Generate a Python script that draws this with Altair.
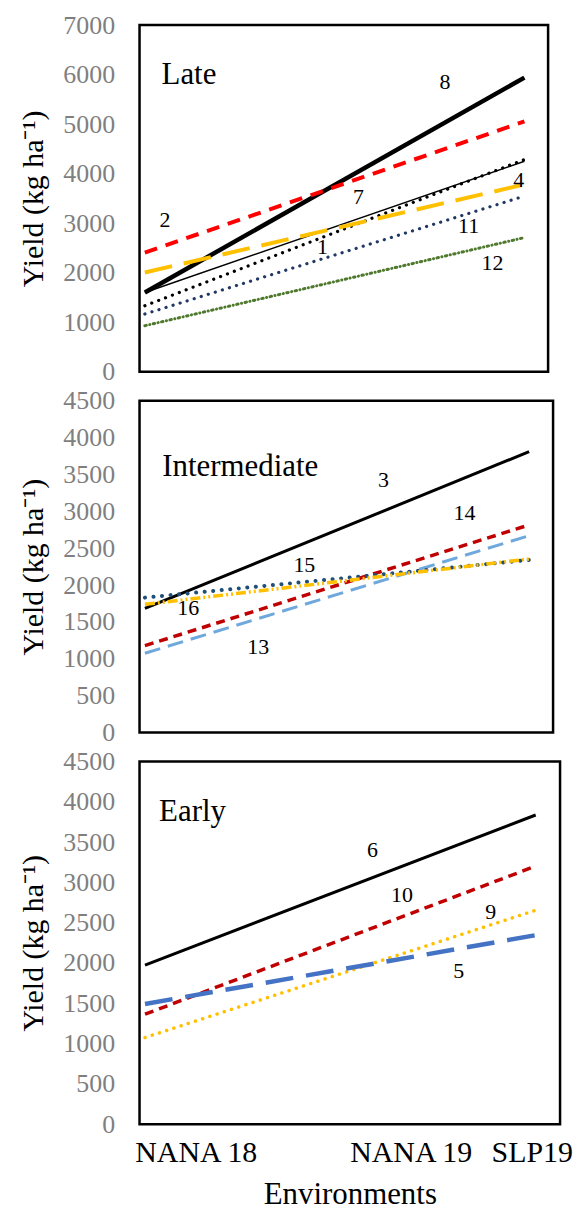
import altair as alt
import pandas as pd

FONT = "Liberation Serif"

# ---------- data ----------
# line endpoints on environment-index axis (start, end)
line_x = [0.0, 1.0]

# Late panel
late_ids = ["8", "2", "7", "1", "4", "11", "12"]
late_start = [1603, 2408, 1603, 1334, 2006, 1167, 931]
late_end = [5940, 5055, 4251, 4285, 3782, 3547, 2710]
late_lab = ["8", "2", "7", "1", "4", "11", "12"]
late_lab_x = [0.791, 0.053, 0.563, 0.468, 0.985, 0.853, 0.916]
late_lab_y = [5848, 3058, 3527, 2529, 3882, 2943, 2193]
late_name_xy = [0.044, 5995]

# Intermediate panel
int_ids = ["3", "14", "13", "15", "16"]
int_start = [1685, 1179, 1075, 1830, 1739]
int_end = [3809, 2815, 2670, 2341, 2354]
int_lab = ["3", "14", "15", "16", "13"]
int_lab_x = [0.621, 0.832, 0.415, 0.113, 0.295]
int_lab_y = [3425, 2973, 2273, 1685, 1166]
int_name_xy = [0.045, 3605]

# Early panel
early_ids = ["6", "10", "9", "5"]
early_start = [1974, 1364, 1075, 1492]
early_end = [3836, 3202, 2654, 2345]
early_lab = ["6", "10", "9", "5"]
early_lab_x = [0.582, 0.658, 0.885, 0.803]
early_lab_y = [3396, 2847, 2633, 1900]
early_name_xy = [0.036, 3878]

# environments (x-axis tick labels)
env_names = ["NANA 18", "NANA 19", "SLP19"]
env_pos = [0.13, 0.68, 0.99]

# ---------- styles ----------
styles = {
    "8": dict(color="#000000", strokeWidth=4.5),
    "2": dict(color="#FF0000", strokeWidth=4, strokeDash=[13, 9]),
    "7": dict(color="#000000", strokeWidth=1.5),
    "1": dict(color="#000000", strokeWidth=3.2, strokeDash=[0.1, 7.3], strokeCap="round"),
    "4": dict(color="#FFC000", strokeWidth=4, strokeDash=[28, 12]),
    "11": dict(color="#203864", strokeWidth=3.2, strokeDash=[0.1, 7.3], strokeCap="round"),
    "12": dict(color="#4F7A2E", strokeWidth=3, strokeDash=[1.5, 3.5, 0.1, 3.5], strokeCap="round"),
    "3": dict(color="#000000", strokeWidth=3),
    "14": dict(color="#C00000", strokeWidth=3.5, strokeDash=[9, 6]),
    "13": dict(color="#6FA8DC", strokeWidth=3, strokeDash=[16, 8]),
    "15": dict(color="#1F4E79", strokeWidth=4, strokeDash=[0.1, 8.5], strokeCap="round"),
    "16": dict(color="#FFC000", strokeWidth=3.5, strokeDash=[10, 3, 2, 3, 2, 3]),
    "6": dict(color="#000000", strokeWidth=3),
    "10": dict(color="#C00000", strokeWidth=3.5, strokeDash=[9, 6]),
    "9": dict(color="#FFC000", strokeWidth=3.5, strokeDash=[0.1, 7.5], strokeCap="round"),
    "5": dict(color="#4472C4", strokeWidth=4.5, strokeDash=[28, 13]),
}

XDOM = [-0.014, 1.0624]


def panel(name, name_xy, ids, starts, ends, labs, lab_x, lab_y, ymax, ystep, ytitle,
          width, height, show_x):
    xscale = alt.Scale(domain=XDOM, nice=False, zero=False)
    yscale = alt.Scale(domain=[0, ymax], nice=False)
    if show_x:
        xaxis = alt.Axis(values=env_pos, title="Environments",
                         labelExpr="datum.value < 0.4 ? '%s' : (datum.value < 0.9 ? '%s' : '%s')" % tuple(env_names),
                         labelFont=FONT, labelFontSize=30, labelColor="#000000",
                         titleFont=FONT, titleFontSize=31, titleFontWeight="normal",
                         titleColor="#000000", labelPadding=13, titlePadding=13,
                         ticks=False, domain=False, grid=False,
                         labelFlush=False, labelOverlap=False)
    else:
        xaxis = None
    yaxis = alt.Axis(values=list(range(0, ymax + 1, ystep)), title=ytitle, format="d",
                     labelFont=FONT, labelFontSize=26, labelColor="#7F7F7F",
                     titleFont=FONT, titleFontSize=30, titleFontWeight="normal",
                     titleColor="#000000", labelPadding=25, titlePadding=14,
                     ticks=False, domain=False, grid=False)
    X = alt.X("x:Q", scale=xscale, axis=xaxis)
    Y = alt.Y("y:Q", scale=yscale, axis=yaxis)
    layers = []
    for sid, a, b in zip(ids, starts, ends):
        df = pd.DataFrame({"x": line_x, "y": [a, b]})
        layers.append(alt.Chart(df).mark_line(**styles[sid]).encode(x=X, y=Y))
    lab_df = pd.DataFrame({"t": labs, "x": lab_x, "y": lab_y})
    layers.append(
        alt.Chart(lab_df).mark_text(font=FONT, fontSize=22, color="#000000",
                                    align="center", baseline="middle").encode(
            x=X, y=Y, text="t:N")
    )
    name_df = pd.DataFrame({"t": [name], "x": [name_xy[0]], "y": [name_xy[1]]})
    layers.append(
        alt.Chart(name_df).mark_text(font=FONT, fontSize=31, color="#000000",
                                     align="left", baseline="middle").encode(
            x=X, y=Y, text="t:N")
    )
    return alt.layer(*layers).properties(width=width, height=height)


top = panel("Late", late_name_xy, late_ids, late_start, late_end, late_lab, late_lab_x,
            late_lab_y, 7000, 1000, "Yield  (kg ha⁻¹)", 410, 348, False)
mid = panel("Intermediate", int_name_xy, int_ids, int_start, int_end, int_lab, int_lab_x,
            int_lab_y, 4500, 500, "Yield  (kg ha⁻¹)", 415, 333, False)
bot = panel("Early", early_name_xy, early_ids, early_start, early_end, early_lab,
            early_lab_x, early_lab_y, 4500, 500, "Yield (kg ha⁻¹)", 422, 364, True)

chart = alt.vconcat(top, mid, bot, spacing=29, bounds="flush").properties(
    padding={"left": 9, "top": 0, "right": 0, "bottom": 0},
    background="white",
).configure_view(stroke="#000000", strokeWidth=2.5).configure_axis(
    labelFont=FONT, titleFont=FONT, labelFontWeight="normal", titleFontWeight="normal"
).configure_text(font=FONT)

chart.save("out.html", embed_options={"renderer": "svg", "actions": False})
